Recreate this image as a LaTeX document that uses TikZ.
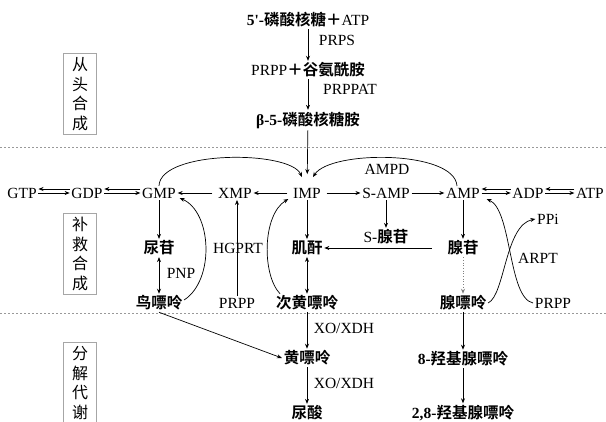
\documentclass[tikz,border=0pt]{standalone}
\usepackage{fontspec}
\setmainfont{Liberation Serif}
\newfontfamily\cjk{Noto Sans CJK SC}
\newfontfamily\cjkb{Noto Sans CJK SC Bold}
\newcommand{\zh}[1]{{\cjkb #1}}
\usetikzlibrary{arrows.meta}

\tikzset{
  stage/.style={draw=gray!70, line width=1.2pt, minimum width=33pt, minimum height=81pt,
    inner sep=0pt, align=center, font=\cjk\fontsize{16}{19.5}\selectfont},
  sep/.style={gray!80, dash pattern=on 2pt off 2pt, line width=0.7pt},
}

\begin{document}
\begin{tikzpicture}[x=1pt, y=-1pt, >={Stealth[length=5pt,width=4pt]}, line width=0.7pt,
    every node/.style={inner sep=1.5pt, font=\fontsize{15.5}{18}\selectfont}]
    \useasboundingbox (0,0) rectangle (606,421);
    \clip (0,0) rectangle (606,421);

    \draw[sep] (0,147) -- (606,147);
    \draw[sep] (0,313) -- (606,313);

    \node[stage, anchor=north] (denovo) at (80,53) {从\\头\\合\\成};
    \node[stage, anchor=north] (salvage) at (80,213) {补\\救\\合\\成};
    \node[stage, anchor=north] (catab) at (80,342) {分\\解\\代\\谢};

    % de novo
    \node (ribose) at (308,20) {\textbf{5\textquotesingle-}\zh{磷酸核糖＋}ATP};
    \node (prppgln) at (308,70) {PRPP\zh{＋谷氨酰胺}};
    \node (pra) at (308,120) {\textbf{β-5-}\zh{磷酸核糖胺}};
    \node at (337,40) {PRPS};
    \node at (350,89) {PRPPAT};

    % main row
    \node (gtp) at (22,193) {GTP};
    \node (gdp) at (87,193) {GDP};
    \node (gmp) at (159,193) {GMP};
    \node (xmp) at (235,193) {XMP};
    \node (imp) at (307,193) {IMP};
    \node (samp) at (386,193) {S-AMP};
    \node (amp) at (463,193) {AMP};
    \node (adp) at (528,193) {ADP};
    \node (atp) at (590,193) {ATP};

    \node (urd) at (159,248) {\zh{尿苷}};
    \node (ino) at (307,248) {\zh{肌酐}};
    \node (sado) at (386,237) {S-\zh{腺苷}};
    \node (ado) at (463,248) {\zh{腺苷}};
    \node (ppi) at (548,219) {PPi};

    \node at (238,248) {HGPRT};
    \node at (181,273) {PNP};
    \node at (538,258) {ARPT};
    \node at (387,169) {AMPD};

    \node (gua) at (159,303) {\zh{鸟嘌呤}};
    \node (prppa) at (237,303) {PRPP};
    \node (hyp) at (307,303) {\zh{次黄嘌呤}};
    \node (ade) at (463,303) {\zh{腺嘌呤}};
    \node (prppb) at (553,303) {PRPP};

    % breakdown
    \node (xan) at (307,358) {\zh{黄嘌呤}};
    \node (uric) at (307,413) {\zh{尿酸}};
    \node (oha) at (463,359) {\textbf{8-}\zh{羟基腺嘌呤}};
    \node (dha) at (463,413) {\textbf{2,8-}\zh{羟基腺嘌呤}};
    \node at (344,328) {XO/XDH};
    \node at (344,383) {XO/XDH};

    \draw[->] (ribose) -- (prppgln);
    \draw[->] (prppgln) -- (pra);
    \draw[->, shorten >=12pt] (pra) -- (imp);

    \draw[->, shorten <=4pt] (imp) -- (xmp);
    \draw[->, shorten <=4pt] (xmp) -- (gmp);
    \draw[->, shorten <=4pt] (imp) -- (samp);
    \draw[->] (samp) -- (amp);

    \draw[->] ([yshift=4pt]gdp.west) -- ([yshift=4pt]gtp.east);
    \draw[->] (gtp.east) -- (gdp.west);
    \draw[->] ([yshift=4pt]gmp.west) -- ([yshift=4pt]gdp.east);
    \draw[->] (gdp.east) -- (gmp.west);
    \draw[->] ([yshift=4pt]adp.west) -- ([yshift=4pt]amp.east);
    \draw[->] (amp.east) -- (adp.west);
    \draw[->] ([yshift=4pt]atp.west) -- ([yshift=4pt]adp.east);
    \draw[->] (adp.east) -- (atp.west);

    \draw[->] (gmp) -- (urd);
    \draw[<->] (urd) -- (gua);
    \draw[->] (imp) -- (ino);
    \draw[<->] (ino) -- (hyp);
    \draw[->] (samp) -- (sado);
    \draw[->, shorten <=14pt] (ado) -- (ino);
    \draw[->] (amp) -- (ado);
    \draw[->, gray, dotted] (ado) -- (ade);
    \draw[->] (prppa.north) -- (prppa.north |- xmp.south);

    \draw[->] (gmp.north) .. controls (160,150) and (290,150) .. ([shift={(-5pt,9pt)}]imp.north);
    \draw[->] ([xshift=-6pt]amp.north) .. controls (455,150) and (330,150) .. ([shift={(6pt,9pt)}]imp.north);
    \draw[->] ([yshift=3pt]gua.east) .. controls (215,280) and (212,212) .. ([shift={(2pt,-5pt)}]gmp.east);
    \draw[->] ([xshift=-27pt]hyp.north) .. controls (262,275) and (262,215) .. ([shift={(-3pt,-6pt)}]imp.west);
    \draw[->] (ade.east) .. controls (505,295) and (505,225) .. (ppi.west);
    \draw[->] (prppb.west) .. controls (508,298) and (512,210) .. ([shift={(5pt,-6pt)}]amp.east);

    \draw[->] (gua.south) -- (xan.west);
    \draw[->] (hyp) -- (xan);
    \draw[->] (xan) -- (uric);
    \draw[->] (ade) -- (oha);
    \draw[->] (oha) -- (dha);
\end{tikzpicture}
\end{document}
